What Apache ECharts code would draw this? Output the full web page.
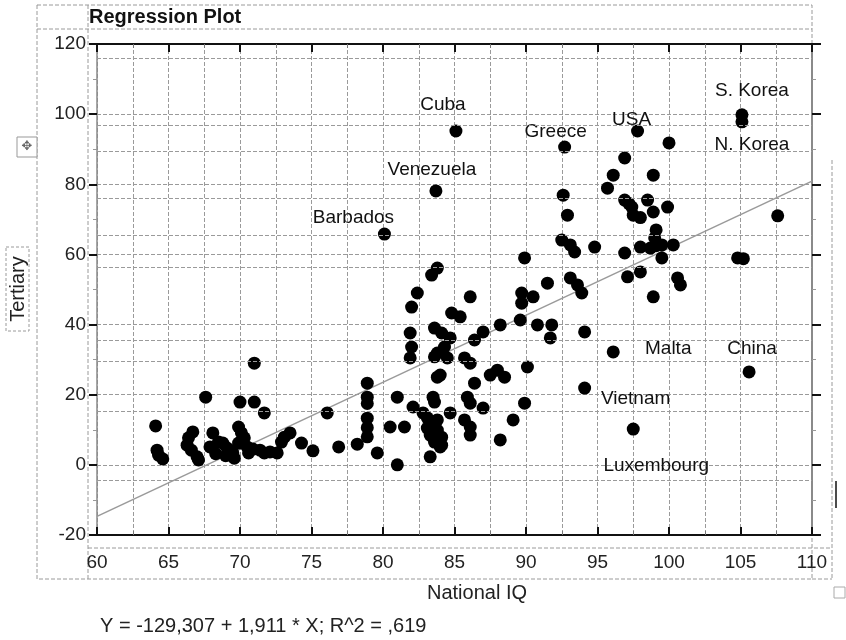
<!DOCTYPE html>
<html>
<head>
<meta charset="utf-8">
<script src="https://cdn.jsdelivr.net/npm/echarts@6/dist/echarts.min.js"></script>
<style>
html,body{margin:0;padding:0;background:#fff;}
#chart{width:846px;height:640px;}
</style>
</head>
<body>
<div id="chart"></div>
<script>
// ---- data ----
const xTicks = [60, 65, 70, 75, 80, 85, 90, 95, 100, 105, 110];
const yTicks = [-20, 0, 20, 40, 60, 80, 100, 120];

// unlabeled countries: National IQ
const iq = [
  64.1,64.2,64.3,64.6,67.6,66.7,66.4,66.3,66.6,67.0,67.1,68.1,67.9,68.5,68.8,69.1,69.3,69.5,69.6,69.9,
  70.1,70.3,69.9,70.5,70.6,70.0,71.0,71.7,71.4,71.7,72.1,72.6,72.9,73.1,73.5,74.3,75.1,76.1,76.9,78.2,
  71.0,78.9,78.9,78.9,78.9,78.9,78.9,79.6,68.3,69.0,70.9,
  89.9,83.8,83.4,82.4,82.0,86.1,84.8,85.4,89.7,89.7,89.6,81.9,82.0,81.9,83.6,84.1,84.7,84.3,83.8,83.6,
  84.5,85.7,86.1,86.4,87.0,88.2,83.8,84.0,86.4,87.5,88.0,88.5,90.1,81.0,83.5,83.6,82.1,82.8,85.9,86.1,
  87.0,84.7,85.7,86.1,86.1,89.9,89.1,88.2,80.5,81.5,81.0,83.1,83.4,83.8,83.1,83.8,83.3,84.1,83.6,84.0,
  83.3,84.1,
  100.0,96.9,96.1,98.9,95.7,92.6,92.9,96.9,97.4,97.5,98.5,98.9,99.9,99.1,99.0,92.5,93.1,93.4,94.8,96.9,
  98.0,98.7,99.5,100.3,99.5,91.5,93.1,93.6,93.9,90.5,90.8,91.8,91.7,94.1,97.1,98.0,98.9,100.6,100.8,104.8,
  105.2,107.6,98.0,97.2,99.1
];
// unlabeled countries: Tertiary
const tertiary = [
  11.1,4.2,2.8,1.7,19.3,9.4,7.7,5.6,4.2,2.3,1.4,9.1,5.1,6.5,6.2,4.8,4.2,3.4,1.9,10.8,
  9.1,7.7,6.2,5.1,3.4,17.9,17.9,14.8,4.2,3.4,3.7,3.4,6.5,7.9,9.1,6.2,4.0,14.8,5.1,5.9,
  29.0,23.3,19.3,17.5,13.3,10.6,8.0,3.4,3.2,2.6,4.5,
  59.0,56.1,54.1,49.0,45.0,47.9,43.3,42.2,49.0,46.1,41.3,37.6,33.6,30.5,39.0,37.6,36.2,33.6,31.9,30.8,
  30.5,30.5,29.0,35.6,37.9,39.9,25.0,25.6,23.3,25.6,27.0,25.0,27.9,19.3,19.3,17.9,16.5,14.8,19.3,17.6,
  16.2,14.8,12.8,10.8,8.5,17.6,12.8,7.1,10.8,10.8,0.0,13.4,12.0,12.8,10.5,9.9,8.5,7.9,6.5,5.1,
  2.3,5.6,
  91.8,87.5,82.6,82.6,78.9,76.9,71.2,75.5,73.5,71.2,75.5,72.1,73.5,67.0,64.7,64.1,62.7,60.7,62.1,60.4,
  62.1,61.8,62.7,62.7,59.0,51.8,53.3,51.3,49.0,47.9,39.9,39.9,36.2,37.9,53.6,55.0,47.9,53.3,51.3,59.0,
  58.8,71.0,70.5,74.5,62.5
];

// labeled countries
const labelNames = ["Cuba", "Greece", "USA", "S. Korea", "N. Korea", "Venezuela", "Barbados", "Malta", "China", "Vietnam", "Luxembourg"];
const labelIQ = [85.1, 92.7, 97.8, 105.1, 105.1, 83.7, 80.1, 96.1, 105.6, 94.1, 97.5];
const labelTertiary = [95.2, 90.6, 95.2, 99.8, 97.8, 78.1, 65.8, 32.2, 26.5, 21.9, 10.2];

// fitted line end points
const fitIQ = [60, 110];
const fitTertiary = [-14.7, 80.9];

const titleText = "Regression Plot";
const xName = "National IQ";
const yName = "Tertiary";
const equation = "Y = -129,307 + 1,911 * X; R^2 = ,619";

// ---- chart ----
const FONT = "Liberation Sans";
const labelOffsets = {
  "Cuba": [-13, -26], "Greece": [-9, -15], "USA": [-6, -11], "S. Korea": [10, -24],
  "N. Korea": [10, 23], "Venezuela": [-4, -21], "Barbados": [-31, -16], "Malta": [55, -3],
  "China": [3, -23], "Vietnam": [51, 11], "Luxembourg": [23, 37]
};

const plainData = iq.map((v, i) => [v, tertiary[i]]);
const labeledData = labelNames.map((n, i) => ({ name: n, value: [labelIQ[i], labelTertiary[i]] }));
const fitData = fitIQ.map((v, i) => [v, fitTertiary[i]]);

const dashed = { color: '#9a9a9a', type: [4, 2], width: 1 };

const chart = echarts.init(document.getElementById('chart'), null, { renderer: 'canvas' });
chart.setOption({
  animation: false,
  backgroundColor: '#fff',
  grid: { left: 97, right: 34, top: 44, bottom: 105, containLabel: false },
  xAxis: [
    {
      type: 'value', min: xTicks[0], max: xTicks[xTicks.length - 1], interval: 5, position: 'bottom',
      axisLine: { show: true, onZero: false, lineStyle: { color: '#111', width: 2 } },
      axisTick: { show: true, inside: true, length: 8, lineStyle: { color: '#111', width: 2 } },
      minorTick: { show: true, splitNumber: 2, length: 4, lineStyle: { color: '#777' } },
      axisLabel: { show: true, margin: 18, fontSize: 19, color: '#222', fontFamily: FONT },
      splitLine: { show: true, lineStyle: dashed },
      minorSplitLine: { show: true, lineStyle: dashed }
    },
    {
      type: 'value', min: xTicks[0], max: xTicks[xTicks.length - 1], interval: 5, position: 'top',
      axisLine: { show: true, onZero: false, lineStyle: { color: '#111', width: 2 } },
      axisTick: { show: true, inside: true, length: 8, lineStyle: { color: '#111', width: 2 } },
      minorTick: { show: true, splitNumber: 2, length: 4, lineStyle: { color: '#777' } },
      axisLabel: { show: false },
      splitLine: { show: false }
    }
  ],
  yAxis: [
    {
      type: 'value', min: yTicks[0], max: yTicks[yTicks.length - 1], interval: 20, position: 'left',
      axisLine: { show: true, onZero: false, lineStyle: { color: '#8a8a8a', width: 1.5 } },
      axisTick: { show: true, inside: false, length: 8, lineStyle: { color: '#111', width: 2 } },
      minorTick: { show: true, splitNumber: 2, length: 4, lineStyle: { color: '#999' } },
      axisLabel: { show: true, margin: 11, fontSize: 19, color: '#222', fontFamily: FONT },
      splitLine: { show: true, lineStyle: dashed }
    },
    {
      type: 'value', min: yTicks[0], max: yTicks[yTicks.length - 1], interval: 20, position: 'right',
      axisLine: { show: true, onZero: false, lineStyle: { color: '#8a8a8a', width: 2 } },
      axisTick: { show: true, inside: false, length: 9, lineStyle: { color: '#111', width: 2 } },
      minorTick: { show: true, splitNumber: 2, length: 4, lineStyle: { color: '#999' } },
      axisLabel: { show: false },
      splitLine: { show: false }
    }
  ],
  series: [
    {
      type: 'line', data: fitData, symbol: 'none', silent: true, z: 1,
      lineStyle: { color: '#9a9a9a', width: 1.5 },
      markLine: {
        silent: true, symbol: 'none', label: { show: false },
        lineStyle: { color: '#9a9a9a', type: [4, 2], width: 1 },
        data: [{ yAxis: 116 }, { yAxis: 96.9 }, { yAxis: 89.5 }, { yAxis: 76.1 }, { yAxis: 65.5 },
               { yAxis: 56.4 }, { yAxis: 35.6 }, { yAxis: 29.5 }, { yAxis: 15.4 }, { yAxis: -4.3 }]
      }
    },
    {
      type: 'scatter', data: plainData, symbol: 'circle', symbolSize: 13, z: 3,
      itemStyle: { color: '#000', opacity: 1 }
    },
    {
      type: 'scatter', data: labeledData, symbol: 'circle', symbolSize: 13, z: 3,
      itemStyle: { color: '#000', opacity: 1 },
      label: { show: true, formatter: '{b}', position: 'inside', color: '#111', fontSize: 19, fontFamily: FONT },
      labelLayout: function (p) {
        const o = labelOffsets[labelNames[p.dataIndex]] || [0, 0];
        return { dx: o[0], dy: o[1], hideOverlap: false };
      }
    }
  ],
  graphic: [
    { type: 'rect', shape: { x: 37, y: 5, width: 775, height: 574 }, silent: true,
      style: { fill: 'none', stroke: '#9a9a9a', lineDash: [4, 2], lineWidth: 1 } },
    { type: 'line', shape: { x1: 37, y1: 29, x2: 812, y2: 29 }, silent: true,
      style: { stroke: '#9a9a9a', lineDash: [4, 2], lineWidth: 1 } },
    { type: 'line', shape: { x1: 88, y1: 5, x2: 88, y2: 579 }, silent: true,
      style: { stroke: '#9a9a9a', lineDash: [4, 2], lineWidth: 1 } },
    { type: 'line', shape: { x1: 88, y1: 548, x2: 832, y2: 548 }, silent: true,
      style: { stroke: '#9a9a9a', lineDash: [4, 2], lineWidth: 1 } },
    { type: 'line', shape: { x1: 812, y1: 579, x2: 832, y2: 579 }, silent: true,
      style: { stroke: '#9a9a9a', lineDash: [4, 2], lineWidth: 1 } },
    { type: 'line', shape: { x1: 832, y1: 160, x2: 832, y2: 579 }, silent: true,
      style: { stroke: '#9a9a9a', lineDash: [4, 2], lineWidth: 1 } },
    { type: 'text', left: 89, top: 7, silent: true,
      style: { text: titleText, fontSize: 20, fontWeight: 'bold', fill: '#111', fontFamily: FONT } },
    { type: 'rect', shape: { x: 6, y: 247, width: 23, height: 84 }, silent: true,
      style: { fill: '#fff', stroke: '#9a9a9a', lineDash: [3, 2], lineWidth: 1 } },
    { type: 'text', x: 18, y: 289, rotation: Math.PI / 2, silent: true,
      style: { text: yName, fontSize: 20, fill: '#222', fontFamily: FONT, align: 'center', verticalAlign: 'middle' } },
    { type: 'rect', shape: { x: 17, y: 137, width: 20, height: 20 }, silent: true,
      style: { fill: '#fff', stroke: '#999', lineWidth: 1 } },
    { type: 'text', x: 27, y: 147, silent: true,
      style: { text: '\u2725', fontSize: 13, fill: '#666', fontFamily: 'DejaVu Sans', align: 'center', verticalAlign: 'middle' } },
    { type: 'text', x: 477, y: 593, silent: true,
      style: { text: xName, fontSize: 20, fill: '#222', fontFamily: FONT, align: 'center', verticalAlign: 'middle' } },
    { type: 'text', x: 100, y: 626, silent: true,
      style: { text: equation, fontSize: 20, fill: '#222', fontFamily: FONT, align: 'left', verticalAlign: 'middle' } },
    { type: 'rect', shape: { x: 834, y: 587, width: 11, height: 11 }, silent: true,
      style: { fill: '#fff', stroke: '#aaa', lineWidth: 1 } },
    { type: 'line', shape: { x1: 836, y1: 481, x2: 836, y2: 508 }, silent: true,
      style: { stroke: '#111', lineWidth: 1.5 } }
  ]
});
</script>
</body>
</html>
